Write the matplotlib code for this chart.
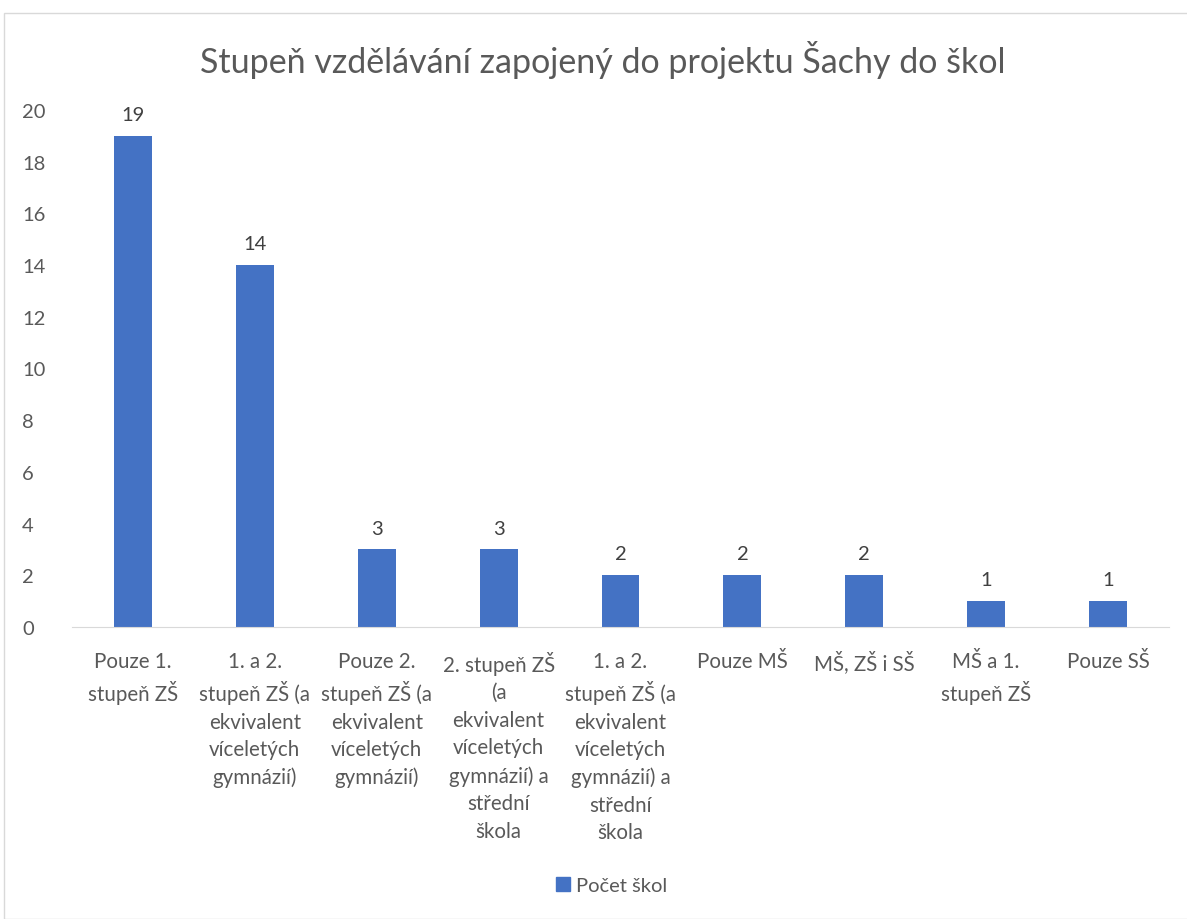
import matplotlib.pyplot as plt
import matplotlib.patches as mpatches
import numpy as np

plt.rcParams['font.family'] = ['Lato', 'DejaVu Sans']

categories = [
    "Pouze 1.\nstupeň ZŠ",
    "1. a 2.\nstupeň ZŠ (a\nekvivalent\nvíceletých\ngymnázií)",
    "Pouze 2.\nstupeň ZŠ (a\nekvivalent\nvíceletých\ngymnázií)",
    "2. stupeň ZŠ\n(a\nekvivalent\nvíceletých\ngymnázií) a\nstřední\nškola",
    "1. a 2.\nstupeň ZŠ (a\nekvivalent\nvíceletých\ngymnázií) a\nstřední\nškola",
    "Pouze MŠ",
    "MŠ, ZŠ i SŠ",
    "MŠ a 1.\nstupeň ZŠ",
    "Pouze SŠ",
]
values = [19, 14, 3, 3, 2, 2, 2, 1, 1]
series_name = "Počet škol"
title = "Stupeň vzdělávání zapojený do projektu Šachy do škol"

bar_color = "#4472C4"
text_color = "#595959"

fig = plt.figure(figsize=(11.87, 9.2), dpi=100)
ax = fig.add_axes([72 / 1187, 292 / 920, 1097 / 1187, 517 / 920])

x = np.arange(len(categories))
bars = ax.bar(x, values, width=0.31, color=bar_color, label=series_name)
for xi, v in zip(x, values):
    ax.text(xi, v + 0.5, str(v), ha='center', va='bottom', fontsize=14.5, color='#404040')

ax.set_xlim(-0.5, len(categories) - 0.5)
ax.set_ylim(0, 20)
ax.set_yticks(range(0, 21, 2))
ax.set_xticks(x)
ax.set_xticklabels(categories, fontsize=14.8, color=text_color, linespacing=1.47, va='top')
ax.tick_params(axis='y', labelsize=14.5, labelcolor=text_color, length=0, pad=36)
ax.tick_params(axis='x', length=0, pad=17)
for lbl in ax.get_yticklabels():
    lbl.set_horizontalalignment('left')

for side in ['top', 'right', 'left']:
    ax.spines[side].set_visible(False)
ax.spines['bottom'].set_color('#D9D9D9')

fig.text(0.508, 0.935, title, ha='center', va='center', fontsize=24.5, color=text_color)

fig.legend(handles=[mpatches.Patch(color=bar_color, label=series_name)],
           loc='center', bbox_to_anchor=(0.515, 0.036), frameon=False,
           fontsize=14.5, labelcolor=text_color, handlelength=0.7, handleheight=0.7,
           handletextpad=0.3)

fig.patches.append(mpatches.Rectangle((4 / 1187, 0), 1.2, 906 / 920, transform=fig.transFigure,
                                      fill=False, edgecolor='#D9D9D9', linewidth=1))

fig.savefig("out.png", dpi=100)
